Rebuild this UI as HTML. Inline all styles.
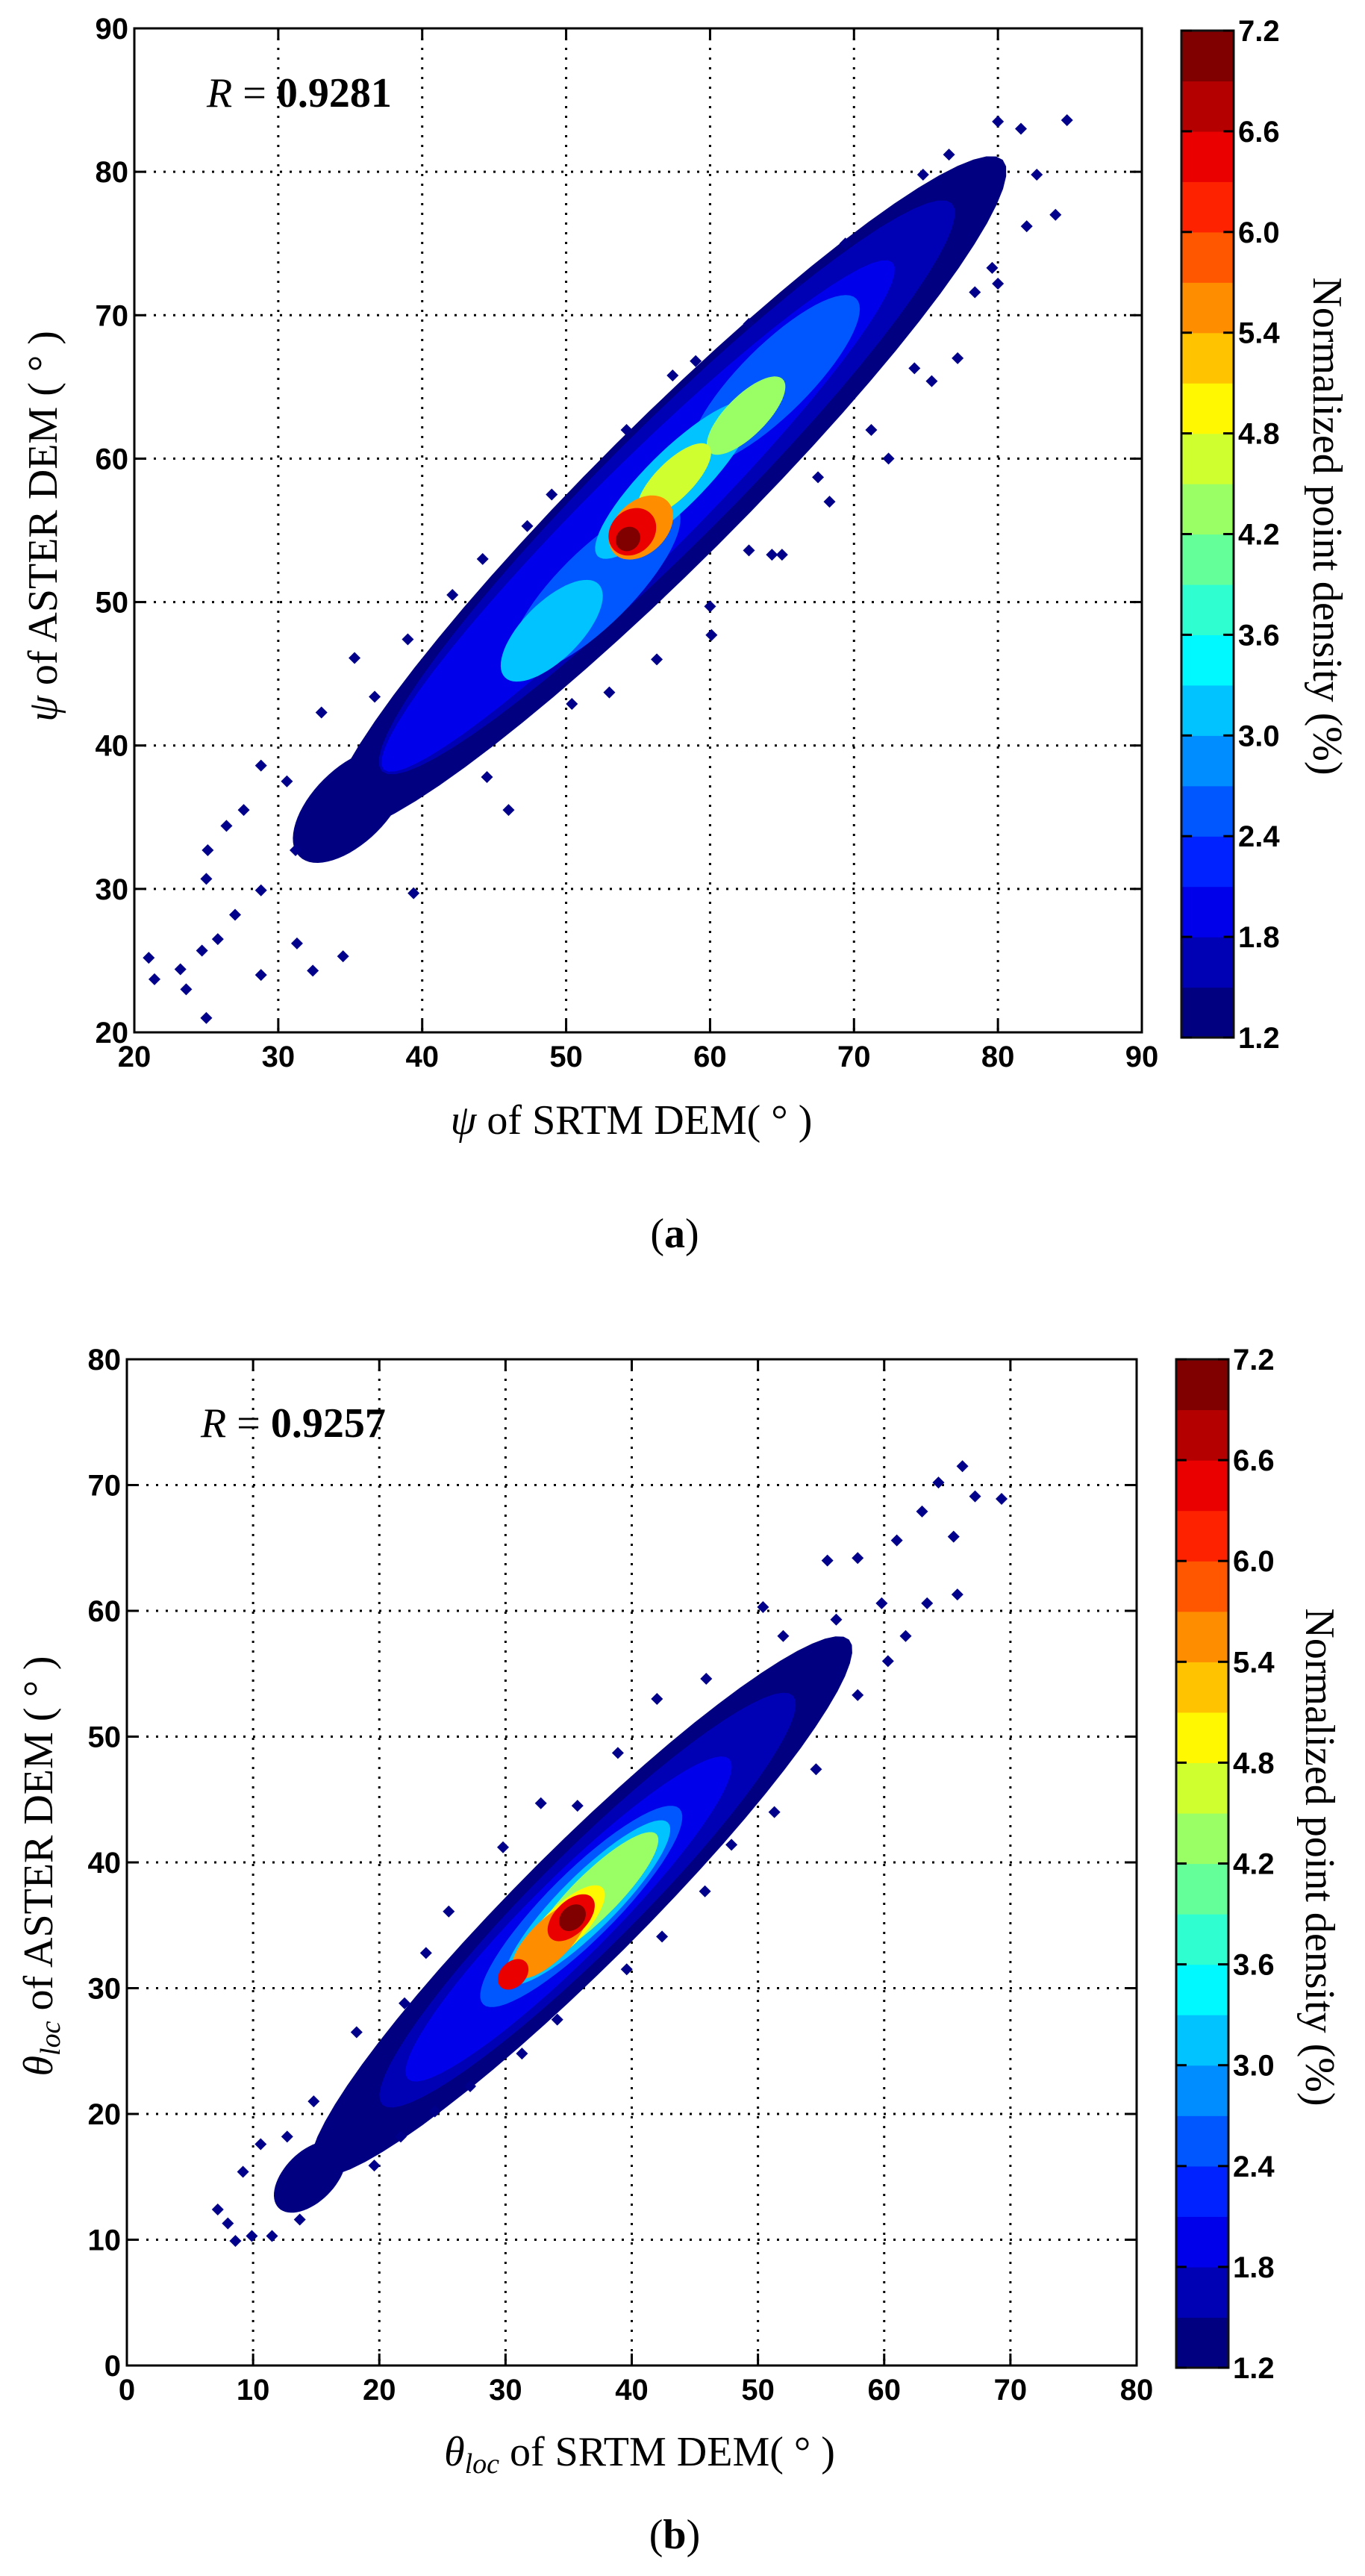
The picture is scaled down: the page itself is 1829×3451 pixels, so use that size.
<!DOCTYPE html>
<html><head><meta charset="utf-8">
<style>
html,body{margin:0;padding:0;background:#fff;}
svg{display:block;}
.tick{font-family:"Liberation Sans",Arial,sans-serif;font-weight:bold;font-size:40px;fill:#000;}
.ttl{font-family:"Liberation Serif","Times New Roman",serif;font-size:56px;fill:#000;}
</style></head>
<body>
<svg id="fig" width="1829" height="3451" viewBox="0 0 1829 3451" xmlns="http://www.w3.org/2000/svg">
<rect width="1829" height="3451" fill="#fff"/>
<g id="texts">
  <text class="ttl" x="277" y="143" font-size="60"><tspan font-style="italic">R</tspan> = <tspan font-weight="bold">0.9281</tspan></text>
  <text class="ttl" transform="translate(76,705) rotate(-90)" text-anchor="middle"><tspan font-style="italic">ψ</tspan> of ASTER DEM ( ° )</text>
  <text class="ttl" x="846" y="1519" text-anchor="middle"><tspan font-style="italic">ψ</tspan> of SRTM DEM( ° )</text>
  <text class="ttl" transform="translate(1760,705) rotate(90)" text-anchor="middle">Normalized point density (%)</text>
  <text class="ttl" x="904" y="1671" text-anchor="middle">(<tspan font-weight="bold">a</tspan>)</text>

  <text class="ttl" x="269" y="1925" font-size="60"><tspan font-style="italic">R</tspan> = <tspan font-weight="bold">0.9257</tspan></text>
  <text class="ttl" transform="translate(70,2500) rotate(-90)" text-anchor="middle"><tspan font-style="italic">θ</tspan><tspan font-style="italic" font-size="38" dy="10">loc</tspan><tspan dy="-10"> of ASTER DEM ( ° )</tspan></text>
  <text class="ttl" x="857" y="3303" text-anchor="middle"><tspan font-style="italic">θ</tspan><tspan font-style="italic" font-size="38" dy="10">loc</tspan><tspan dy="-10"> of SRTM DEM( ° )</tspan></text>
  <text class="ttl" transform="translate(1750,2488) rotate(90)" text-anchor="middle">Normalized point density (%)</text>
  <text class="ttl" x="904" y="3414" text-anchor="middle">(<tspan font-weight="bold">b</tspan>)</text>
</g>
</svg>
<script>
// ---- data ----
const cbTicks = [1.2,1.8,2.4,3.0,3.6,4.2,4.8,5.4,6.0,6.6,7.2];
const cbMin = 1.2, cbMax = 7.2, cbBands = 20;

const aTicks = [20,30,40,50,60,70,80,90];
const aBlobCx = [57,35,57,55,52,64.5,49,57.5,62.5,57.5,55.2,54.6,54.3];
const aBlobCy = [57.5,35.8,58,56,51,65.5,48,58.5,63,58.5,55.2,54.9,54.4];
const aBlobAlong = [33,5,28,25,8,8,4.6,7.5,3.6,3.4,2.6,1.8,0.9];
const aBlobAcross = [5.0,2.6,4.2,3.4,2.6,2.4,2.0,2.0,1.4,1.3,1.8,1.5,0.8];
const aBlobLevel = [1.2,1.2,1.6,2.0,2.6,2.6,3.3,3.3,4.3,4.6,5.5,6.3,7.0];
const aPtsX = [21,21.4,23.2,23.6,25,24.7,28.8,32.4,34.5,31.3,25.1,25,28.8,35.3,39.4,60,60.1,64.3,65,68.3,72.4,80,79.6,84,84.8,80,81.6,77.2,75.4,57.4,59,54.2,49,47.3,44.2,42.1,39,36.7,33,30.6,27.6,26.4,28.8,27,25.8,31.2,44.5,46,50.4,53,56.3,62.7,67.5,71.2,74.2,78.4,82,82.7,69.4,66.3,62.7,76.6,74.8];
const aPtsY = [25.2,23.7,24.4,23,21,25.7,24,24.3,25.3,26.2,32.7,30.7,38.6,46.1,29.7,49.7,47.7,53.3,53.3,57,60,72.2,73.3,77,83.6,83.5,83,67,65.4,65.8,66.8,62,57.5,55.3,53,50.5,47.4,43.4,42.3,37.5,35.5,34.4,29.9,28.2,26.5,32.7,37.8,35.5,42.9,43.7,46,53.6,58.7,62,66.3,71.6,76.2,79.8,75,71.9,69.4,81.2,79.8];

const bTicks = [0,10,20,30,40,50,60,70,80];
const bBlobCx = [36,14.5,36.5,35,36,36.5,37,34.5,33.5,35.2,30.6,35.3];
const bBlobCy = [36.5,15,37,35.5,36.5,36.8,37.3,34.8,33.8,35.6,31.1,35.6];
const bBlobAlong = [30,3.5,23,18,11,9,7,4.5,4,2.3,1.4,1.2];
const bBlobAcross = [4.8,2.0,3.9,3.2,2.7,2.2,1.8,1.6,1.6,1.3,1.0,0.9];
const bBlobLevel = [1.2,1.2,1.6,2.0,2.6,3.3,4.2,4.8,5.5,6.3,6.3,7.0];
const bPtsX = [7.2,8.6,9.9,11.5,8,9.2,13.7,10.6,12.7,14.8,18.2,22,23.7,25.5,29.8,32.8,35.7,38.9,42,45.9,50.4,52,55.5,57.9,61,63,64.3,66.2,67.2,69.3,65.8,63.4,60.3,57.9,54.6,51.3,47.9,45.8,42.4,39.6,34.1,31.3,27.2,24.4,21.7,19.6,61.7,65.5,59.8,56.2];
const bPtsY = [12.4,9.9,10.3,10.3,11.3,15.4,11.6,17.6,18.2,21,26.5,28.8,32.8,36.1,41.2,44.7,44.5,48.7,53,54.6,60.3,58,64,64.2,65.6,67.9,70.2,71.5,69.1,68.9,61.3,60.6,56,53.3,47.4,44,41.4,37.7,34.1,31.5,27.5,24.8,22.2,20.2,18.2,15.9,58,65.9,60.6,59.3];

// ---- helpers ----
const NS = "http://www.w3.org/2000/svg";
const svg = document.getElementById('fig');
function mk(tag, attrs, parent){
  const e = document.createElementNS(NS, tag);
  for (const k in attrs) e.setAttribute(k, attrs[k]);
  (parent||svg).appendChild(e); return e;
}
function clamp(v){return Math.max(0,Math.min(1,v));}
function jet(t){
  const r=clamp(Math.min(4*t-1.5,-4*t+4.5)), g=clamp(Math.min(4*t-0.5,-4*t+3.5)), b=clamp(Math.min(4*t+0.5,-4*t+2.5));
  return 'rgb('+Math.round(r*255)+','+Math.round(g*255)+','+Math.round(b*255)+')';
}
function levelColor(lv){
  let i = Math.floor((lv-cbMin)/(cbMax-cbMin)*cbBands);
  i = Math.max(0,Math.min(cbBands-1,i));
  return jet(i/(cbBands-1));
}

function drawPanel(P){
  const g = mk('g',{});
  
  
  const sx = v => P.L + (v-P.min)/(P.max-P.min)*(P.R-P.L);
  const sy = v => P.B - (v-P.min)/(P.max-P.min)*(P.B-P.T);
  const cp = mk('clipPath',{id:'clip-'+P.id}, g);
  mk('rect',{x:P.L,y:P.T,width:P.R-P.L,height:P.B-P.T}, cp);
  const grid = mk('g',{}, g);
  
  
  P.ticks.forEach(v=>{
    if (v!==P.min && v!==P.max){
      mk('line',{x1:sx(v),x2:sx(v),y1:P.T,y2:P.B,stroke:'#000','stroke-width':3,'stroke-dasharray':'3 10'}, grid);
      mk('line',{x1:P.L,x2:P.R,y1:sy(v),y2:sy(v),stroke:'#000','stroke-width':3,'stroke-dasharray':'3 10'}, grid);
    }
  });
  const dens = mk('g',{'clip-path':'url(#clip-'+P.id+')'}, g);
  
  
  const s2 = Math.SQRT1_2;
  function blob(i){
    let pts=[];
    for(let k=0;k<64;k++){
      const t=k/64*2*Math.PI;
      const a=P.along[i]*Math.cos(t), b=P.across[i]*Math.sin(t);
      const dx=(a-b)*s2, dy=(a+b)*s2;
      pts.push(sx(P.cx[i]+dx).toFixed(1)+','+sy(P.cy[i]+dy).toFixed(1));
    }
    const e = mk('polygon',{points:pts.join(' '),fill:levelColor(P.level[i])}, dens);
    
    
  }
  blob(0); blob(1);
  for(let i=0;i<P.px.length;i++){
    const x=sx(P.px[i]), y=sy(P.py[i]), r=8;
    const e = mk('polygon',{points:`${x},${y-r} ${x+r},${y} ${x},${y+r} ${x-r},${y}`,fill:'#00008b'}, dens);
    
    
  }
  for(let i=2;i<P.cx.length;i++) blob(i);
  const ax = mk('g',{}, g);
  
  
  mk('rect',{x:P.L,y:P.T,width:P.R-P.L,height:P.B-P.T,fill:'none',stroke:'#000','stroke-width':3}, ax);
  P.ticks.forEach(v=>{
    mk('line',{x1:sx(v),x2:sx(v),y1:P.B,y2:P.B-16,stroke:'#000','stroke-width':3}, ax);
    mk('line',{x1:sx(v),x2:sx(v),y1:P.T,y2:P.T+16,stroke:'#000','stroke-width':3}, ax);
    mk('line',{x1:P.L,x2:P.L+16,y1:sy(v),y2:sy(v),stroke:'#000','stroke-width':3}, ax);
    mk('line',{x1:P.R,x2:P.R-16,y1:sy(v),y2:sy(v),stroke:'#000','stroke-width':3}, ax);
    const tx = mk('text',{x:sx(v),y:P.B+46,'text-anchor':'middle',class:'tick'}, ax);
    tx.textContent=v;
    
    
    const ty = mk('text',{x:P.L-8,y:sy(v)+14,'text-anchor':'end',class:'tick'}, ax);
    ty.textContent=v;
    
    
  });
  const cb = mk('g',{}, g);
  
  
  const cy = v => P.cbB - (v-cbMin)/(cbMax-cbMin)*(P.cbB-P.cbT);
  const bh = (P.cbB-P.cbT)/cbBands;
  for(let i=0;i<cbBands;i++){
    mk('rect',{x:P.cbL,y:P.cbB-(i+1)*bh,width:P.cbR-P.cbL,height:bh+0.6,fill:jet(i/(cbBands-1))}, cb);
  }
  mk('rect',{x:P.cbL,y:P.cbT,width:P.cbR-P.cbL,height:P.cbB-P.cbT,fill:'none',stroke:'#111','stroke-width':3}, cb);
  cbTicks.forEach(v=>{
    mk('line',{x1:P.cbL,x2:P.cbL+14,y1:cy(v),y2:cy(v),stroke:'#000','stroke-width':3}, cb);
    mk('line',{x1:P.cbR,x2:P.cbR-14,y1:cy(v),y2:cy(v),stroke:'#000','stroke-width':3}, cb);
    const t = mk('text',{x:P.cbR+6,y:cy(v)+14,class:'tick'}, cb);
    t.textContent=v.toFixed(1);
    
    
  });
}

drawPanel({id:'a',L:180,R:1530,T:38,B:1383,min:20,max:90,ticks:aTicks,
  cx:aBlobCx,cy:aBlobCy,along:aBlobAlong,across:aBlobAcross,level:aBlobLevel,px:aPtsX,py:aPtsY,
  cbL:1583,cbR:1653,cbT:41,cbB:1390});
drawPanel({id:'b',L:170,R:1523,T:1821,B:3169,min:0,max:80,ticks:bTicks,
  cx:bBlobCx,cy:bBlobCy,along:bBlobAlong,across:bBlobAcross,level:bBlobLevel,px:bPtsX,py:bPtsY,
  cbL:1576,cbR:1646,cbT:1821,cbB:3172});
svg.appendChild(document.getElementById('texts'));
</script>
</body></html>
